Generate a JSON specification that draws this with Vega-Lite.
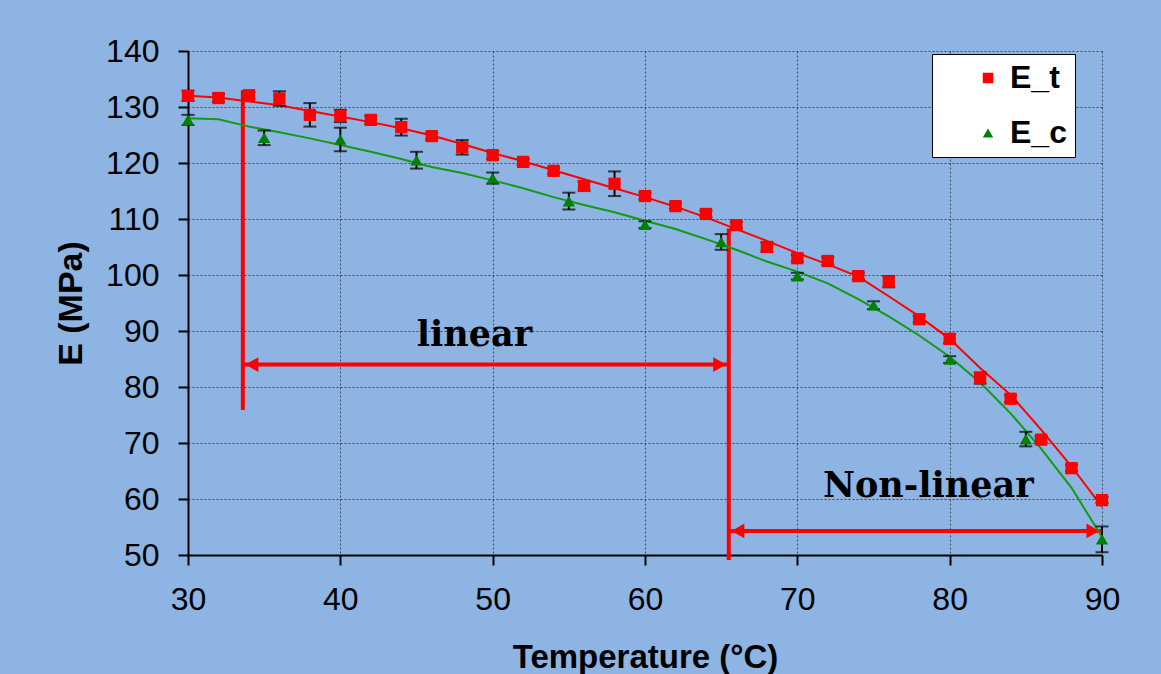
{
  "$schema": "https://vega.github.io/schema/vega-lite/v6.json",
  "width": 914,
  "height": 504,
  "autosize": "none",
  "padding": {"left": 188, "top": 51, "right": 59, "bottom": 119},
  "background": "#8DB4E2",
  "config": {
    "view": {"stroke": null},
    "font": "Liberation Sans",
    "axis": {
      "domainColor": "#000000",
      "domainWidth": 2,
      "tickColor": "#000000",
      "tickWidth": 2,
      "tickSize": 10,
      "labelFont": "Liberation Sans",
      "labelFontSize": 32,
      "labelColor": "#000000",
      "titleFont": "Liberation Sans",
      "titleFontSize": 34,
      "titleFontWeight": "bold",
      "titleColor": "#000000",
      "grid": true,
      "gridColor": "#3C4B60",
      "gridDash": [2, 2],
      "gridWidth": 1
    },
    "axisX": {"labelPadding": 19, "titleY": 86, "titleBaseline": "top", "titleFontSize": 33, "labelFlush": false},
    "axisY": {"labelPadding": 19, "titleX": -100, "titleBaseline": "bottom", "titleAngle": 270}
  },
  "datasets": {
    "points": [
      {"series": "E_t", "temp": 30, "E": 132.0, "lo": 131.1, "hi": 132.9},
      {"series": "E_t", "temp": 32, "E": 131.6, "lo": 130.9, "hi": 132.3},
      {"series": "E_t", "temp": 34, "E": 132.1, "lo": 131.5, "hi": 132.7},
      {"series": "E_t", "temp": 36, "E": 131.5, "lo": 130.2, "hi": 132.8},
      {"series": "E_t", "temp": 38, "E": 128.6, "lo": 126.5, "hi": 130.7},
      {"series": "E_t", "temp": 40, "E": 128.4, "lo": 127.3, "hi": 129.5},
      {"series": "E_t", "temp": 42, "E": 127.7, "lo": 127.0, "hi": 128.4},
      {"series": "E_t", "temp": 44, "E": 126.4, "lo": 124.9, "hi": 127.9},
      {"series": "E_t", "temp": 46, "E": 124.8, "lo": 124.2, "hi": 125.4},
      {"series": "E_t", "temp": 48, "E": 122.8, "lo": 121.5, "hi": 124.1},
      {"series": "E_t", "temp": 50, "E": 121.4, "lo": 120.7, "hi": 122.1},
      {"series": "E_t", "temp": 52, "E": 120.2, "lo": 119.7, "hi": 120.7},
      {"series": "E_t", "temp": 54, "E": 118.6, "lo": 118.1, "hi": 119.1},
      {"series": "E_t", "temp": 56, "E": 115.9, "lo": 115.1, "hi": 116.7},
      {"series": "E_t", "temp": 58, "E": 116.3, "lo": 114.1, "hi": 118.5},
      {"series": "E_t", "temp": 60, "E": 114.1, "lo": 113.5, "hi": 114.7},
      {"series": "E_t", "temp": 62, "E": 112.3, "lo": 111.8, "hi": 112.8},
      {"series": "E_t", "temp": 64, "E": 110.9, "lo": 110.3, "hi": 111.5},
      {"series": "E_t", "temp": 66, "E": 108.9, "lo": 108.3, "hi": 109.5},
      {"series": "E_t", "temp": 68, "E": 105.0, "lo": 104.2, "hi": 105.8},
      {"series": "E_t", "temp": 70, "E": 103.0, "lo": 102.4, "hi": 103.6},
      {"series": "E_t", "temp": 72, "E": 102.5, "lo": 101.8, "hi": 103.2},
      {"series": "E_t", "temp": 74, "E": 99.8, "lo": 99.2, "hi": 100.4},
      {"series": "E_t", "temp": 76, "E": 98.8, "lo": 97.8, "hi": 99.8},
      {"series": "E_t", "temp": 78, "E": 92.1, "lo": 91.5, "hi": 92.7},
      {"series": "E_t", "temp": 80, "E": 88.6, "lo": 87.8, "hi": 89.4},
      {"series": "E_t", "temp": 82, "E": 81.6, "lo": 80.6, "hi": 82.6},
      {"series": "E_t", "temp": 84, "E": 77.9, "lo": 77.3, "hi": 78.5},
      {"series": "E_t", "temp": 86, "E": 70.6, "lo": 70.0, "hi": 71.2},
      {"series": "E_t", "temp": 88, "E": 65.5, "lo": 64.9, "hi": 66.1},
      {"series": "E_t", "temp": 90, "E": 59.8, "lo": 59.3, "hi": 60.3},
      {"series": "E_c", "temp": 30, "E": 127.7, "lo": 126.8, "hi": 128.6},
      {"series": "E_c", "temp": 35, "E": 124.5, "lo": 123.2, "hi": 125.8},
      {"series": "E_c", "temp": 40, "E": 124.2, "lo": 122.1, "hi": 126.3},
      {"series": "E_c", "temp": 45, "E": 120.5, "lo": 119.0, "hi": 122.0},
      {"series": "E_c", "temp": 50, "E": 117.3, "lo": 116.3, "hi": 118.3},
      {"series": "E_c", "temp": 55, "E": 113.2, "lo": 111.7, "hi": 114.7},
      {"series": "E_c", "temp": 60, "E": 109.0, "lo": 108.4, "hi": 109.6},
      {"series": "E_c", "temp": 65, "E": 105.9, "lo": 104.5, "hi": 107.3},
      {"series": "E_c", "temp": 70, "E": 99.8, "lo": 99.2, "hi": 100.4},
      {"series": "E_c", "temp": 75, "E": 94.6, "lo": 93.9, "hi": 95.3},
      {"series": "E_c", "temp": 80, "E": 84.9, "lo": 84.3, "hi": 85.5},
      {"series": "E_c", "temp": 85, "E": 70.7, "lo": 69.4, "hi": 72.0},
      {"series": "E_c", "temp": 90, "E": 52.8, "lo": 50.5, "hi": 55.1}
    ],
    "fitT": [
      {"temp": 30, "E": 132.0}, {"temp": 32, "E": 131.7}, {"temp": 34, "E": 131.0},
      {"temp": 36, "E": 130.3}, {"temp": 38, "E": 129.3}, {"temp": 40, "E": 128.3},
      {"temp": 42, "E": 127.3}, {"temp": 44, "E": 126.2}, {"temp": 46, "E": 124.9},
      {"temp": 48, "E": 123.4}, {"temp": 50, "E": 121.8}, {"temp": 52, "E": 120.3},
      {"temp": 54, "E": 118.7}, {"temp": 56, "E": 117.1}, {"temp": 58, "E": 115.5},
      {"temp": 60, "E": 113.9}, {"temp": 62, "E": 112.2}, {"temp": 64, "E": 110.3},
      {"temp": 66, "E": 108.2}, {"temp": 68, "E": 106.1}, {"temp": 70, "E": 103.9},
      {"temp": 72, "E": 101.9}, {"temp": 74, "E": 99.7}, {"temp": 76, "E": 96.2},
      {"temp": 78, "E": 92.6}, {"temp": 80, "E": 88.6}, {"temp": 82, "E": 83.4},
      {"temp": 84, "E": 78.6}, {"temp": 86, "E": 72.4}, {"temp": 88, "E": 65.8},
      {"temp": 90, "E": 58.6}
    ],
    "fitC": [
      {"temp": 30, "E": 128.0}, {"temp": 32, "E": 127.8}, {"temp": 34, "E": 126.5},
      {"temp": 36, "E": 125.5}, {"temp": 38, "E": 124.4}, {"temp": 40, "E": 123.2},
      {"temp": 42, "E": 122.0}, {"temp": 44, "E": 120.7}, {"temp": 46, "E": 119.3},
      {"temp": 48, "E": 118.2}, {"temp": 50, "E": 116.9}, {"temp": 52, "E": 115.5},
      {"temp": 54, "E": 113.9}, {"temp": 56, "E": 112.5}, {"temp": 58, "E": 111.2},
      {"temp": 60, "E": 109.7}, {"temp": 62, "E": 108.2}, {"temp": 64, "E": 106.4},
      {"temp": 66, "E": 104.5}, {"temp": 68, "E": 102.4}, {"temp": 70, "E": 100.6},
      {"temp": 72, "E": 98.5}, {"temp": 74, "E": 95.7}, {"temp": 76, "E": 92.6},
      {"temp": 78, "E": 89.2}, {"temp": 80, "E": 85.4}, {"temp": 82, "E": 80.8},
      {"temp": 84, "E": 75.3}, {"temp": 86, "E": 69.0}, {"temp": 88, "E": 62.0},
      {"temp": 90, "E": 53.2}
    ],
    "vlines": [
      {"temp": 33.6, "E": 133.0, "E2": 75.9},
      {"temp": 65.5, "E": 108.3, "E2": 49.1}
    ],
    "hlines": [
      {"temp": 33.6, "temp2": 65.5, "E": 84.0},
      {"temp": 65.5, "temp2": 90.0, "E": 54.3}
    ],
    "headsLeft": [
      {"temp": 34.2, "E": 84.0},
      {"temp": 66.1, "E": 54.3}
    ],
    "headsRight": [
      {"temp": 64.9, "E": 84.0},
      {"temp": 89.4, "E": 54.3}
    ],
    "labels": [
      {"temp": 48.8, "E": 89.3, "label": "linear"},
      {"temp": 78.6, "E": 62.3, "label": "Non-linear"}
    ]
  },
  "encoding": {
    "x": {"field": "temp", "type": "quantitative", "title": "Temperature (°C)",
          "scale": {"domain": [30, 90], "nice": false, "zero": false},
          "axis": {"values": [30, 40, 50, 60, 70, 80, 90]}},
    "y": {"field": "E", "type": "quantitative", "title": "E (MPa)",
          "scale": {"domain": [50, 140], "nice": false, "zero": false},
          "axis": {"values": [50, 60, 70, 80, 90, 100, 110, 120, 130, 140]}}
  },
  "layer": [
    {
      "data": {"name": "vlines"},
      "mark": {"type": "rule", "color": "#FF0000", "strokeWidth": 4, "clip": false},
      "encoding": {"y2": {"field": "E2"}}
    },
    {
      "data": {"name": "hlines"},
      "mark": {"type": "rule", "color": "#FF0000", "strokeWidth": 4},
      "encoding": {"x2": {"field": "temp2"}}
    },
    {
      "data": {"name": "headsLeft"},
      "mark": {"type": "point", "shape": "triangle-left", "filled": true, "color": "#FF0000", "opacity": 1, "size": 220},
      "encoding": {}
    },
    {
      "data": {"name": "headsRight"},
      "mark": {"type": "point", "shape": "triangle-right", "filled": true, "color": "#FF0000", "opacity": 1, "size": 220},
      "encoding": {}
    },
    {
      "data": {"name": "labels"},
      "mark": {"type": "text", "font": "DejaVu Serif", "fontWeight": "bold", "fontSize": 35, "color": "#000000", "align": "center", "baseline": "middle"},
      "encoding": {"text": {"field": "label"}}
    },
    {
      "data": {"name": "fitT"},
      "mark": {"type": "line", "strokeWidth": 2, "color": "#FF0000"},
      "encoding": {}
    },
    {
      "data": {"name": "fitC"},
      "mark": {"type": "line", "strokeWidth": 2, "color": "#139A13"},
      "encoding": {}
    },
    {
      "data": {"name": "points"},
      "mark": {"type": "rule", "color": "#000000", "strokeWidth": 2},
      "encoding": {
        "y": {"field": "lo", "type": "quantitative", "title": "E (MPa)", "scale": {"domain": [50, 140], "nice": false, "zero": false}},
        "y2": {"field": "hi"}
      }
    },
    {
      "data": {"name": "points"},
      "mark": {"type": "tick", "color": "#000000", "orient": "horizontal", "size": 13, "thickness": 2},
      "encoding": {
        "y": {"field": "lo", "type": "quantitative", "title": "E (MPa)", "scale": {"domain": [50, 140], "nice": false, "zero": false}}
      }
    },
    {
      "data": {"name": "points"},
      "mark": {"type": "tick", "color": "#000000", "orient": "horizontal", "size": 13, "thickness": 2},
      "encoding": {
        "y": {"field": "hi", "type": "quantitative", "title": "E (MPa)", "scale": {"domain": [50, 140], "nice": false, "zero": false}}
      }
    },
    {
      "data": {"name": "points"},
      "mark": {"type": "point", "filled": true, "opacity": 1, "size": 150},
      "encoding": {
        "color": {"field": "series", "type": "nominal",
                  "scale": {"domain": ["E_t", "E_c"], "range": ["#FF0000", "#008000"]},
                  "legend": {"title": null, "orient": "none", "legendX": 744, "legendY": 3,
                             "fillColor": "#FFFFFF", "strokeColor": "#000000", "padding": 8,
                             "symbolOffset": 32, "labelOffset": 6, "rowPadding": 23, "symbolSize": 110,
                             "labelFont": "Liberation Sans", "labelFontSize": 32, "labelFontWeight": "bold",
                             "labelColor": "#000000", "symbolStrokeWidth": 0,
                             "encode": {"legend": {"update": {"strokeWidth": {"value": 2}}},
                                        "entries": {"update": {"width": {"value": 157}}}}}},
        "shape": {"field": "series", "type": "nominal",
                  "scale": {"domain": ["E_t", "E_c"], "range": ["square", "triangle-up"]},
                  "legend": {"title": null, "orient": "none", "legendX": 744, "legendY": 3,
                             "fillColor": "#FFFFFF", "strokeColor": "#000000", "padding": 8,
                             "symbolOffset": 32, "labelOffset": 6, "rowPadding": 23, "symbolSize": 110,
                             "labelFont": "Liberation Sans", "labelFontSize": 32, "labelFontWeight": "bold",
                             "labelColor": "#000000", "symbolStrokeWidth": 0,
                             "encode": {"legend": {"update": {"strokeWidth": {"value": 2}}},
                                        "entries": {"update": {"width": {"value": 157}}}}}}
      }
    }
  ]
}
